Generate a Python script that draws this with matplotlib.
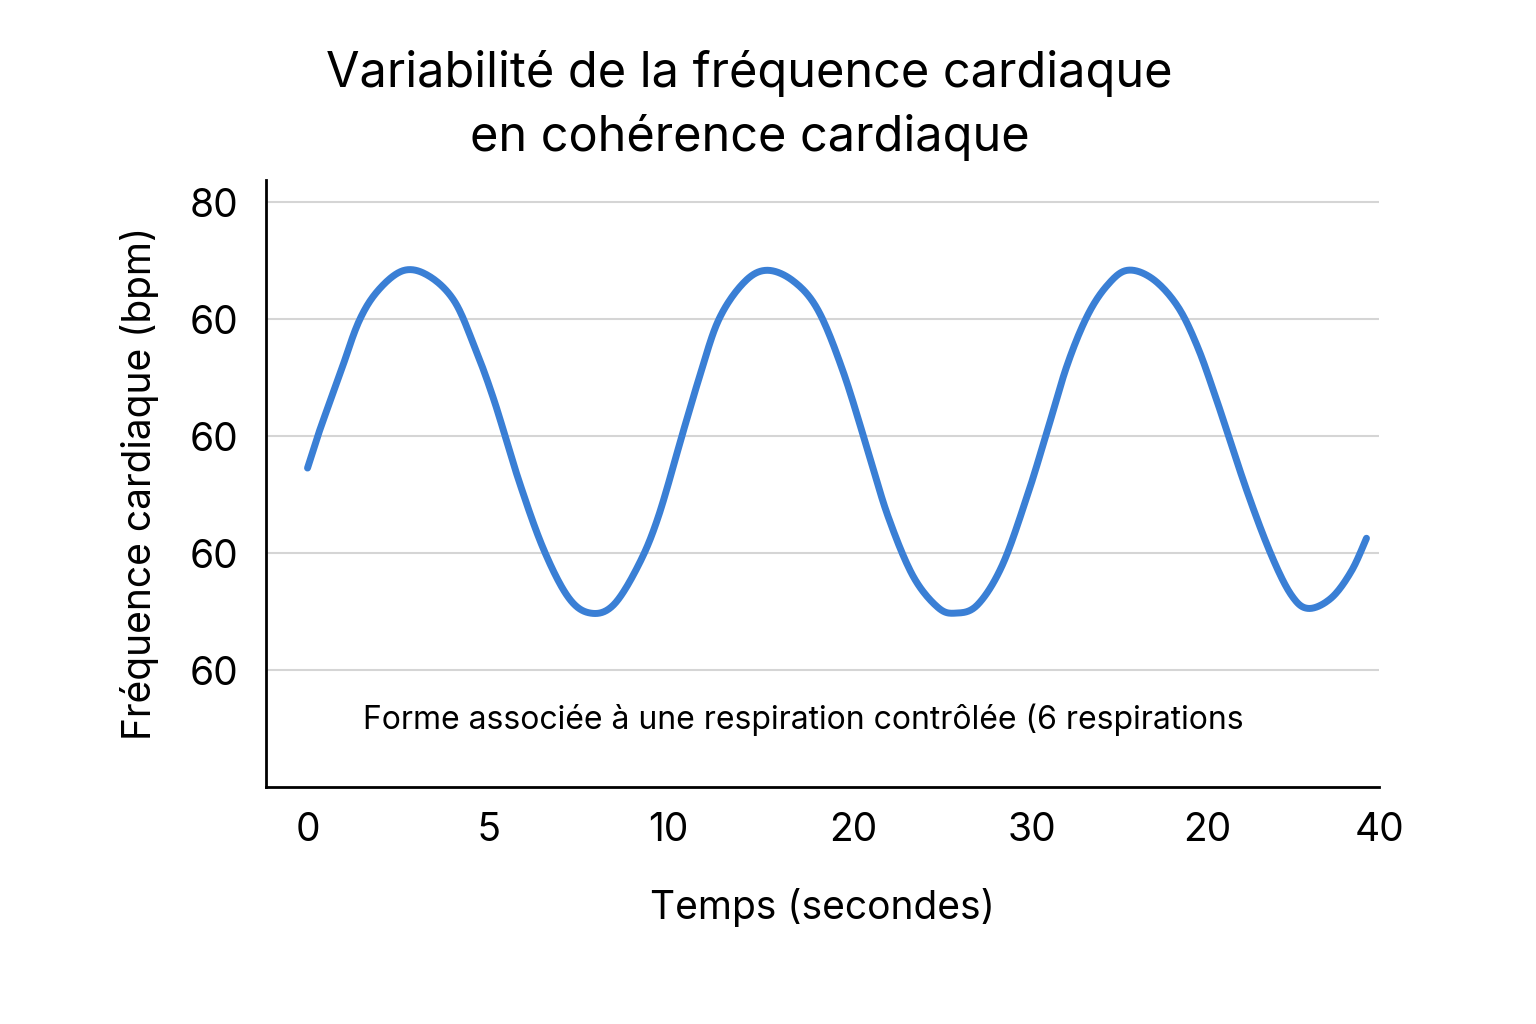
import matplotlib
matplotlib.use("Agg")
import matplotlib.pyplot as plt
import numpy as np

time_s = [0, 0.45, 1.19, 1.93, 2.68, 3.61, 4.54, 5.47, 6.21, 6.96, 7.89, 8.82, 9.75, 10.57,
          11.42, 12.35, 13.10, 14.03, 14.59, 15.33, 16.26, 17.12, 18.12, 19.05, 19.98, 20.91,
          21.66, 22.59, 23.52, 24.19, 25.0, 25.93, 26.87, 27.61, 28.35, 29.10, 29.84, 30.59,
          31.52, 32.45, 33.19, 33.93, 35.05, 35.98, 36.73, 37.36, 38.21, 38.96, 39.52]
bpm = [57.3, 60.5, 65.2, 69.9, 72.6, 74.2, 73.7, 71.6, 67.8, 63.1, 56.2, 50.3, 46.2, 44.9,
       45.6, 49.0, 53.2, 60.5, 64.8, 69.9, 73.1, 74.2, 73.3, 70.8, 65.6, 58.8, 53.2, 48.1,
       45.4, 44.9, 45.6, 49.0, 55.0, 60.5, 66.1, 70.3, 72.9, 74.2, 73.5, 71.2, 67.8, 63.1,
       55.4, 49.8, 46.4, 45.3, 46.2, 48.5, 51.3]
x_tick_pos = [0, 6.77, 13.47, 20.35, 27.05, 33.56, 40]
x_tick_labels = ["0", "5", "10", "20", "30", "20", "40"]
y_tick_pos = [80, 70, 60, 50, 40]
y_tick_labels = ["80", "60", "60", "60", "60"]


def catmull_rom(xs, ys, n=20):
    P = np.column_stack([xs, ys]).astype(float)
    P = np.vstack([P[0], P, P[-1]])
    out = []
    t = np.linspace(0, 1, n, endpoint=False)[:, None]
    for i in range(1, len(P) - 2):
        p0, p1, p2, p3 = P[i - 1], P[i], P[i + 1], P[i + 2]
        seg = 0.5 * ((2 * p1) + (-p0 + p2) * t + (2 * p0 - 5 * p1 + 4 * p2 - p3) * t ** 2
                     + (-p0 + 3 * p1 - 3 * p2 + p3) * t ** 3)
        out.append(seg)
    out.append(P[-2][None, :])
    arr = np.vstack(out)
    return arr[:, 0], arr[:, 1]


sx, sy = catmull_rom(time_s, bpm)

plt.rcParams["font.family"] = "Inter"
fig = plt.figure(figsize=(15.36, 10.24), dpi=100)
ax = fig.add_axes([0.173, 0.231, 0.725, 0.593])
ax.plot(sx, sy, color="#3a7fd5", lw=5, solid_capstyle="round")
ax.set_xlim(-1.56, 39.9)
ax.set_ylim(30, 81.9)
ax.set_xticks(x_tick_pos, x_tick_labels, fontsize=28)
ax.set_yticks(y_tick_pos, y_tick_labels, fontsize=28)
ax.tick_params(length=0)
ax.tick_params(axis="x", pad=18)
ax.tick_params(axis="y", pad=20)
ax.grid(axis="y", color="#d5d5d5", lw=1.5)
ax.set_axisbelow(True)
for s in ["top", "right"]:
    ax.spines[s].set_visible(False)
for s in ["left", "bottom"]:
    ax.spines[s].set_linewidth(2)
ax.set_xlabel("Temps (secondes)", fontsize=28, labelpad=28)
ax.set_ylabel("Fréquence cardiaque (bpm)", fontsize=28, labelpad=22)
ax.text(0.087, 0.112, "Forme associée à une respiration contrôlée (6 respirations",
        transform=ax.transAxes, fontsize=23, va="center")
fig.text(0.488, 0.897, "Variabilité de la fréquence cardiaque\nen cohérence cardiaque",
         ha="center", va="center", fontsize=35, linespacing=1.45)
fig.savefig("out.png", facecolor="white")
